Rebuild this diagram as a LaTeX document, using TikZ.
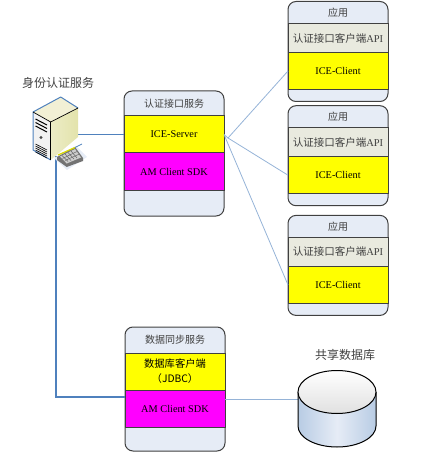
\documentclass[tikz,border=0pt]{standalone}
\usepackage{fontspec}
\setmainfont{Liberation Serif}
\newfontfamily\cjk{Noto Sans CJK SC}
\usepackage{xcolor}
\definecolor{cBox}{HTML}{E6ECF6}
\definecolor{cEdge}{HTML}{404040}
\definecolor{cBand}{HTML}{E9EADF}
\definecolor{cLink}{HTML}{4F81BD}
\definecolor{cThin}{HTML}{95B3D7}
\definecolor{cDisk}{HTML}{B8CCE4}
\definecolor{cIce}{HTML}{FFFF00}
\definecolor{cSdk}{HTML}{FF00FF}
\usetikzlibrary{positioning}
\tikzset{
  node-box/.style={draw=cEdge,line width=1pt,fill=cBox,rounded corners=8pt,outer sep=0pt,
    minimum width=100pt,minimum height=100pt,anchor=north west},
  node-title/.style={font=\cjk\fontsize{10}{12}\selectfont,text=cEdge,inner sep=0pt,outer sep=0pt,
    minimum height=22pt},
  node-label/.style={font=\cjk\fontsize{12}{14}\selectfont,text=cEdge,inner sep=0pt},
  node-band/.style={draw=cEdge,line width=1pt,outer sep=0pt,inner sep=0pt,align=center,
    minimum width=100pt,minimum height=37pt,font=\fontsize{10.3}{15}\selectfont},
  node-api/.style={node-band,fill=cBand,minimum height=29pt,text=cEdge,font=\fontsize{10.5}{15}\selectfont},
  node-ice/.style={node-band,fill=cIce},
  node-sdk/.style={node-band,fill=cSdk},
  link-thick/.style={draw=cLink,line width=1.8pt},
  link-thin/.style={draw=cThin,line width=0.8pt},
}
\begin{document}
\begin{tikzpicture}[x=1pt,y=-1pt,node distance=0pt]
  \useasboundingbox (0,0) rectangle (424,457);
  \node[node-box] (a1) at (288,1.5) {};
  \node[node-title,below=of a1.north] (a1t) {应用};
  \node[node-api,below=of a1t] (a1a) {\cjk 认证接口客户端\rmfamily API};
  \node[node-ice,below=of a1a] (a1c) {ICE-Client};
  \node[node-box,below=4.2pt of a1] (a2) {};
  \node[node-title,below=of a2.north] (a2t) {应用};
  \node[node-api,below=of a2t] (a2a) {\cjk 认证接口客户端\rmfamily API};
  \node[node-ice,below=of a2a] (a2c) {ICE-Client};
  \node[node-box,below=9.7pt of a2] (a3) {};
  \node[node-title,below=of a3.north] (a3t) {应用};
  \node[node-api,below=of a3t] (a3a) {\cjk 认证接口客户端\rmfamily API};
  \node[node-ice,below=of a3a] (a3c) {ICE-Client};

  \node[node-box,minimum height=125pt] (auth) at (124,91) {};
  \node[node-title,minimum height=25pt,below=of auth.north] (autht) {认证接口服务};
  \node[node-ice,below=of autht] (ice) {ICE-Server};
  \node[node-sdk,below=of ice] (sdk) {AM Client SDK};

  \node[node-box,minimum height=124pt] (sync) at (125,327) {};
  \node[node-title,minimum height=26pt,below=of sync.north] (synct) {数据同步服务};
  \node[node-ice,below=of synct] (jdbc) {\cjk 数据库客户端\\\cjk （JDBC）};
  \node[node-sdk,below=of jdbc] (sdkb) {AM Client SDK};

  \node[node-label] (srvt) at (58,83) {身份认证服务};
  \node[node-label] (dbt) at (345,355) {共享数据库};

  \coordinate (fan) at (228,138);
  \coordinate (srvr) at (78,134.5);
  \coordinate (srvd) at (56,156);
  \coordinate (syncin) at (125,397);
  \coordinate (dbin) at (298,399);

  \draw[link-thin] (ice.east) -- (fan) -- (a1c.west);
  \draw[link-thin] (fan) -- (a2c.west);
  \draw[link-thin] (ice.east) -- (a3c.west);
  \draw[link-thin] (sync.east |- dbin) -- (dbin);
  \draw[link-thick] (srvr) -- (ice.west);
  \draw[link-thick] (srvd) |- (syncin);

  % server
  \fill[black!5] (33,112) -- (50.7,122) -- (50.7,160) -- (33,150) -- cycle;
  \shade[left color=white!85!olive,right color=olive!22!white] (50.7,122) -- (78,108) -- (78,137) -- (50.7,160) -- cycle;
  \fill[olive!12!white] (33,112) -- (60.7,97) -- (78,108) -- (50.7,122) -- cycle;
  \draw[draw=cLink,line width=1pt,line join=round] (50.7,160) -- (33,150) -- (33,112) -- (60.7,97) -- (78,108);
  \draw[line width=0.7pt] (33,112) -- (50.7,122) -- (78,108);
  \draw[line width=0.7pt] (50.7,122) -- (50.7,160);
  \foreach \y in {0,3.5,7}
    \draw[line width=1pt] (35.5,119+\y) -- (47,125+\y);
  \fill[black!70] (41,137.5) circle (1.7pt);
  \foreach \y in {0,2,4,6,8}
    \draw[line width=0.6pt] (35.5,144+\y) -- (47,150+\y);

  % switch
  \fill[cBox] (54,158) -- (76,146) -- (87,157) -- (67,170) -- cycle;
  \fill[black!55] (57,157) -- (75,147) -- (83,158) -- (83,161) -- (66.7,167) -- (57,160) -- cycle;
  \fill[black!20] (60,156.5) -- (75,149) -- (81,157.5) -- (66.7,163.5) -- cycle;
  \draw[black!60,line width=0.5pt] (62,155.5) -- (68,161.5) (65,154) -- (71,160.5) (68,152.5) -- (74,159) (71,151) -- (77,158);
  \draw[black!60,line width=0.5pt] (62.5,158.5) -- (77,151.5) (65,160.5) -- (79.5,154);
  \draw[cIce!85!black,line width=1.2pt] (58,155) -- (75,147.5);
  \draw[draw=cLink,line width=0.8pt] (75,147.5) -- (82,144);

  % shared database
  \shade[left color=cDisk,right color=cDisk,middle color=cBox]
    (298,392) -- (298,426) arc[start angle=180,end angle=360,x radius=39,y radius=-21] -- (376,392) -- cycle;
  \draw[line width=1pt] (298,392) -- (298,426) arc[start angle=180,end angle=360,x radius=39,y radius=-21] -- (376,392);
  \shade[top color=white,bottom color=black!12,draw=black,line width=1pt]
    (337,392) ellipse[x radius=39,y radius=21.5];
\end{tikzpicture}
\end{document}
